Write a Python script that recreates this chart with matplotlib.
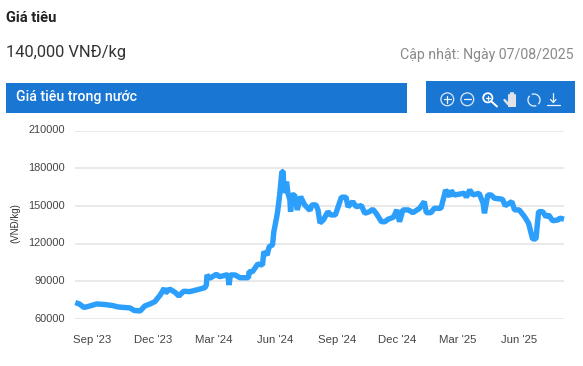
import numpy as np
import pandas as pd
import matplotlib
matplotlib.use('Agg')
import matplotlib.pyplot as plt
from matplotlib.patches import Rectangle, Circle
from matplotlib.transforms import ScaledTranslation

W, H = 583, 366
BLUE = '#1976d2'
LINE = '#2b9ffb'

# days since the first point, and price (VND/kg)
start = pd.Timestamp('2023-08-07')
day_offsets = [0, 6, 13, 22, 32, 43, 55, 64, 73, 82, 88, 97, 104, 112, 119, 127, 133, 135, 141, 149,
               155, 162, 171, 181, 194, 196, 197, 201, 211, 216, 226, 228, 230, 232, 239, 246, 259, 260, 265, 273,
               280, 282, 287, 290, 295, 297, 301, 303, 306, 309, 311, 312, 316, 318, 321, 322, 324, 328, 332, 337,
               343, 351, 354, 360, 363, 366, 371, 378, 382, 389, 398, 405, 408, 415, 420, 428, 433, 440, 445, 450,
               458, 463, 468, 476, 481, 485, 490, 498, 505, 515, 522, 525, 532, 537, 547, 554, 560, 562, 567, 582,
               585, 590, 595, 604, 610, 612, 617, 622, 627, 639, 643, 653, 657, 664, 672, 678, 684, 689, 693, 699,
               704, 708, 714, 722, 725, 731]
prices = [73100, 72000, 69200, 70400, 72000, 71600, 70800, 69600, 69200, 68800, 66800, 66400, 70400, 72000, 73800, 79100, 84500, 80700, 83900, 81300,
          78300, 82100, 81800, 83100, 85000, 87100, 95100, 92400, 95600, 93700, 95100, 95100, 87100, 95100, 95100, 92900, 92900, 97700, 97700, 103800,
          103000, 113600, 111000, 117600, 119000, 129600, 140500, 146900, 160400, 177400, 177400, 160400, 169400, 160400, 154800, 145500, 158800, 158800, 146900, 157500,
          150900, 146500, 150900, 150900, 146900, 136500, 138900, 145500, 142900, 142900, 157000, 157000, 149300, 153500, 149500, 150300, 144200, 145500, 147400, 144200,
          137500, 137500, 139500, 141100, 146900, 137500, 146900, 146900, 144700, 148200, 153500, 144700, 144700, 148200, 148200, 162800, 157500, 162300, 158800, 160200,
          157000, 162800, 158800, 160200, 152200, 144200, 158800, 158800, 156200, 155400, 150300, 153500, 146900, 146900, 141500, 136300, 123800, 123800, 145500, 145500,
          141500, 142900, 138300, 138900, 140300, 139500]

y_ticks = [60000, 90000, 120000, 150000, 180000, 210000]
x_ticks = ['2023-09-01', '2023-12-01', '2024-03-01', '2024-06-01', '2024-09-01', '2024-12-01', '2025-03-01', '2025-06-01']
x_labels = ["Sep '23", "Dec '23", "Mar '24", "Jun '24", "Sep '24", "Dec '24", "Mar '25", "Jun '25"]

dates = start + pd.to_timedelta(day_offsets, unit='D')

fig = plt.figure(figsize=(W / 100, H / 100), dpi=100)

# overlay in pixel coordinates for the page header and toolbar
page = fig.add_axes([0, 0, 1, 1])
page.set_xlim(0, W)
page.set_ylim(H, 0)
page.axis('off')

page.text(6, 17.5, 'Giá tiêu', family='Roboto', weight='bold', fontsize=10.6, color='#222222', va='center')
page.text(6, 52.5, '140,000 VNĐ/kg', family='Roboto', fontsize=11.9, color='#333333', va='center')
page.text(574, 54.5, 'Cập nhật: Ngày 07/08/2025', family='Roboto', fontsize=10.2, color='#8a8a8a', va='center', ha='right')

page.add_patch(Rectangle((6, 83), 401, 30, color=BLUE, lw=0))
page.add_patch(Rectangle((426, 81), 149, 32, color=BLUE, lw=0))
page.text(16, 97, 'Giá tiêu trong nước', family='Roboto', weight='medium', fontsize=10.2, color='white', va='center')

# toolbar icons
ic = dict(color='#eef5fc', lw=0.9, solid_capstyle='round')
for cx in (447.3, 467.3):
    page.add_patch(Circle((cx, 99.3), 6.4, fill=False, ec='#dce9f8', lw=0.9))
    page.plot([cx - 3.5, cx + 3.5], [99.3, 99.3], **ic)
page.plot([447.3, 447.3], [95.8, 102.8], **ic)
page.add_patch(Circle((487.8, 97.8), 4.6, fill=False, ec='white', lw=1.3))
page.plot([491.5, 497], [101.5, 106.5], color='white', lw=1.4, solid_capstyle='round')
page.plot([485.5, 490], [97.8, 97.8], **ic)
page.plot([487.8, 487.8], [95.5, 100], **ic)
# hand
for fx, top in zip((508.5, 510.8, 513.1, 515.4), (94.5, 92.5, 92.8, 94.5)):
    page.plot([fx, fx], [top, 102], color='#dfe3e8', lw=1.5, solid_capstyle='round')
page.plot([504.5, 508], [100, 104], color='#dfe3e8', lw=1.7, solid_capstyle='round')
page.add_patch(Rectangle((507.6, 100), 8.8, 6.5, color='#dfe3e8', lw=0))
# reset
t = np.linspace(0.25, 2.75, 20)
page.plot(534 + 6 * np.cos(t - 0.9), 100 - 6 * np.sin(t - 0.9), color='#dce9f8', lw=1.0)
page.plot(534 - 6 * np.cos(t - 0.9), 100 + 6 * np.sin(t - 0.9), color='#dce9f8', lw=1.0)
# download
page.plot([553.3, 553.3], [93, 102], **ic)
page.plot([550.5, 553.3, 556], [99.5, 102.5, 99.5], **ic)
page.plot([547, 559.5], [105.3, 105.3], **ic)

# chart
left, right, top, bottom = 75.3, 564.0, 130.7, 319.0
ax = fig.add_axes([left / W, 1 - bottom / H, (right - left) / W, (bottom - top) / H])
ax.patch.set_alpha(0)
ax.plot(dates, prices, color=LINE, lw=3.9, solid_joinstyle='bevel', solid_capstyle='butt', clip_on=False, zorder=3)
ax.set_xlim(dates[0], dates[-1])
ax.set_ylim(60000, 210000)
ax.grid(True, axis='y', color='#e3e3e3', lw=1.1)
ax.set_axisbelow(True)
for s in ax.spines.values():
    s.set_visible(False)
ax.set_yticks(y_ticks)
ax.set_xticks(pd.to_datetime(x_ticks))
ax.set_xticklabels(x_labels, family='Liberation Sans', fontsize=8.2, color='#444444')
ax.set_yticklabels([str(v) for v in y_ticks], family='Liberation Sans', fontsize=7.9, color='#444444')
ax.tick_params(axis='both', length=0)
ax.tick_params(axis='x', pad=11.5)
ax.tick_params(axis='y', pad=7.5)

# y labels sit a little above their grid lines
shift = ScaledTranslation(0, 1.5 / 100, fig.dpi_scale_trans)
for lab in ax.get_yticklabels():
    lab.set_transform(lab.get_transform() + shift)

page.text(15.5, 223, '(VNĐ/kg)', family='Liberation Sans', fontsize=7, color='#333333', rotation=90, va='center', ha='center')

fig.savefig('out.png', dpi=100)
